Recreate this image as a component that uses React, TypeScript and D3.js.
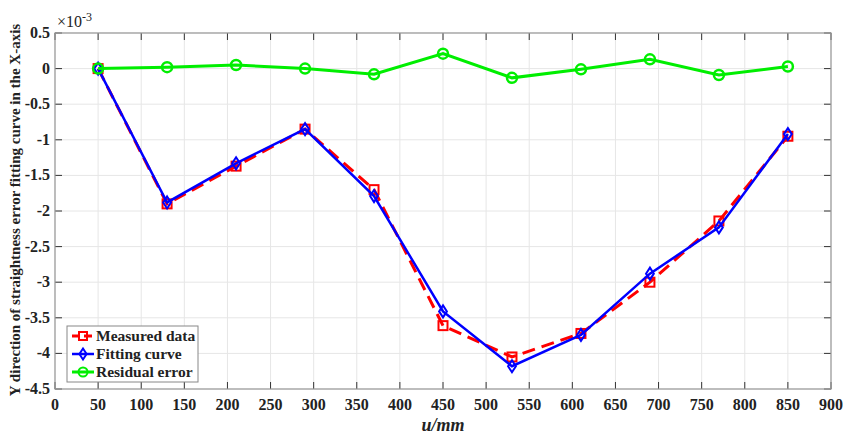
import * as d3 from "d3";

// positions along X (mm)
const xPos = [50, 130, 210, 290, 370, 450, 530, 610, 690, 770, 850];
// values in units of 1e-3
const measured = [0, -1.9, -1.37, -0.85, -1.7, -3.61, -4.05, -3.72, -3.0, -2.14, -0.95];
const fitting = [0, -1.88, -1.33, -0.85, -1.79, -3.41, -4.18, -3.74, -2.88, -2.23, -0.92];
const residual = [0, 0.02, 0.05, 0, -0.08, 0.21, -0.13, -0.01, 0.13, -0.09, 0.03];

const xTicks = [0, 50, 100, 150, 200, 250, 300, 350, 400, 450, 500, 550, 600, 650, 700, 750, 800, 850, 900];
const yTicks = [0.5, 0, -0.5, -1, -1.5, -2, -2.5, -3, -3.5, -4, -4.5];

const W = 843;
const H = 434;
const m = { left: 55, right: 12, top: 33, bottom: 45 };
const font = "'Liberation Serif', 'Times New Roman', serif";

export default function App() {
  const x = d3.scaleLinear().domain([0, 900]).range([m.left, W - m.right]);
  const y = d3.scaleLinear().domain([-4.5, 0.5]).range([H - m.bottom, m.top]);
  const line = d3
    .line<number>()
    .x((_, i) => x(xPos[i]))
    .y((d) => y(d));

  const diamond = (cx: number, cy: number, r = 6) =>
    `M${cx},${cy - r}L${cx + r * 0.65},${cy}L${cx},${cy + r}L${cx - r * 0.65},${cy}Z`;

  const x0 = m.left;
  const x1 = W - m.right;
  const y0 = m.top;
  const y1 = H - m.bottom;

  const legendRows = [
    { label: "Measured data", color: "#ff0000", kind: "sq" },
    { label: "Fitting curve", color: "#0000ff", kind: "dm" },
    { label: "Residual error", color: "#00ee00", kind: "ci" },
  ];

  return (
    <div style={{ position: "fixed", left: 0, top: 0, width: W, height: H, overflow: "hidden", background: "#fff" }}>
      <svg width={W} height={H} style={{ display: "block", fontFamily: font }}>
        <rect width={W} height={H} fill="#fff" />
        {/* grid */}
        {xTicks.map((t) => (
          <line key={"gx" + t} x1={x(t)} x2={x(t)} y1={y0} y2={y1} stroke="#e6e6e6" strokeWidth={1} />
        ))}
        {yTicks.map((t) => (
          <line key={"gy" + t} x1={x0} x2={x1} y1={y(t)} y2={y(t)} stroke="#e6e6e6" strokeWidth={1} />
        ))}
        {/* ticks inside, all four sides */}
        {xTicks.map((t) => (
          <g key={"tx" + t} stroke="#333" strokeWidth={1}>
            <line x1={x(t)} x2={x(t)} y1={y1} y2={y1 - 7} />
            <line x1={x(t)} x2={x(t)} y1={y0} y2={y0 + 7} />
          </g>
        ))}
        {yTicks.map((t) => (
          <g key={"ty" + t} stroke="#333" strokeWidth={1}>
            <line x1={x0} x2={x0 + 7} y1={y(t)} y2={y(t)} />
            <line x1={x1} x2={x1 - 7} y1={y(t)} y2={y(t)} />
          </g>
        ))}
        <rect x={x0} y={y0} width={x1 - x0} height={y1 - y0} fill="none" stroke="#999" strokeWidth={1.2} />
        {/* tick labels */}
        {xTicks.map((t) => (
          <text key={"lx" + t} x={x(t)} y={y1 + 21} textAnchor="middle" fontSize={16} fontWeight="bold" fill="#222">
            {t}
          </text>
        ))}
        {yTicks.map((t) => (
          <text key={"ly" + t} x={x0 - 5} y={y(t) + 5} textAnchor="end" fontSize={16} fontWeight="bold" fill="#222">
            {t}
          </text>
        ))}
        <text x={x0 + 2} y={y0 - 6} fontSize={16} fill="#222">
          ×10
          <tspan dy={-6} fontSize={12}>-3</tspan>
        </text>
        <text x={(x0 + x1) / 2} y={H - 3} textAnchor="middle" fontSize={18} fontWeight="bold" fontStyle="italic" fill="#222">
          u/mm
        </text>
        <text
          transform={`translate(20,${210}) rotate(-90)`}
          textAnchor="middle"
          fontSize={15}
          fontWeight="bold"
          fill="#222"
        >
          Y direction of straightness error fitting curve in the X-axis
        </text>
        {/* series */}
        <path d={line(measured) ?? ""} fill="none" stroke="#ff0000" strokeWidth={3} strokeDasharray="13,7" />
        {measured.map((v, i) => (
          <rect key={"m" + i} x={x(xPos[i]) - 4.5} y={y(v) - 4.5} width={9} height={9} fill="none" stroke="#ff0000" strokeWidth={2} />
        ))}
        <path d={line(fitting) ?? ""} fill="none" stroke="#0000ff" strokeWidth={2.5} />
        {fitting.map((v, i) => (
          <path key={"f" + i} d={diamond(x(xPos[i]), y(v))} fill="none" stroke="#0000ff" strokeWidth={2} />
        ))}
        <path d={line(residual) ?? ""} fill="none" stroke="#00ee00" strokeWidth={3} />
        {residual.map((v, i) => (
          <circle key={"r" + i} cx={x(xPos[i])} cy={y(v)} r={5} fill="none" stroke="#00ee00" strokeWidth={2.5} />
        ))}
        {/* legend */}
        <rect x={67} y={326} width={131} height={56} fill="#fff" stroke="#888" strokeWidth={1} />
        {legendRows.map((r, i) => {
          const cy = 336 + i * 18;
          return (
            <g key={r.label}>
              {r.kind === "sq" ? (
                <>
                  <line x1={72} x2={94} y1={cy} y2={cy} stroke={r.color} strokeWidth={3} strokeDasharray="8,4" />
                  <rect x={79} y={cy - 4} width={8} height={8} fill="none" stroke={r.color} strokeWidth={2} />
                </>
              ) : r.kind === "dm" ? (
                <>
                  <line x1={72} x2={94} y1={cy} y2={cy} stroke={r.color} strokeWidth={2.5} />
                  <path d={diamond(83, cy, 5.5)} fill="none" stroke={r.color} strokeWidth={2} />
                </>
              ) : (
                <>
                  <line x1={72} x2={94} y1={cy} y2={cy} stroke={r.color} strokeWidth={3} />
                  <circle cx={83} cy={cy} r={4.5} fill="none" stroke={r.color} strokeWidth={2} />
                </>
              )}
              <text x={96} y={cy + 5} fontSize={15.5} fontWeight="bold" fill="#222">
                {r.label}
              </text>
            </g>
          );
        })}
      </svg>
    </div>
  );
}
